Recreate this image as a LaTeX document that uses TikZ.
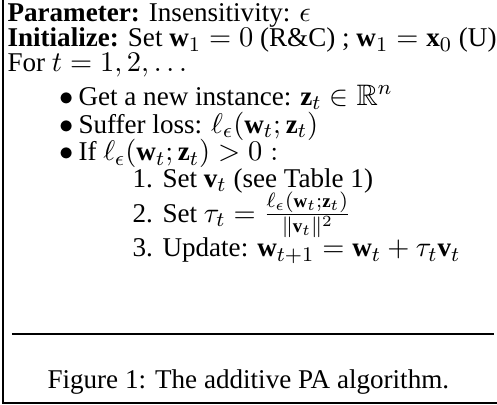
\documentclass[tikz,border=0pt]{standalone}
\usepackage{amsmath,amssymb}
\usepackage{fontspec}
\setmainfont{Liberation Serif}[Scale=0.915]
\begin{document}
\begin{tikzpicture}[x=0.385pt,y=-0.385pt,
  txt/.style={anchor=base west,inner sep=0pt,font=\fontsize{11.4pt}{13pt}\selectfont},
  rule/.style={line width=0.8pt}]
\useasboundingbox (0,0) rectangle (497,405);
\coordinate (tl) at (3,0);
\coordinate (bl) at (3,403);
\coordinate (br) at (497,403);
\coordinate (ml) at (12,334);
\coordinate (mr) at (494,334);
\draw[rule] (tl) -- (bl) -- (br);
\draw[rule] (ml) -- (mr);
\node[txt] (p) at (7,22) {\textbf{Parameter:} Insensitivity: $\epsilon$};
\node[txt] (i) at (7,47) {\textbf{Initialize:} Set $\mathbf{w}_1=0$ (R\&C) ; $\mathbf{w}_1=\mathbf{x}_0$ (U)};
\node[txt] (f) at (7,72) {For $t=1,2,\ldots$};
\node[txt] (b1) at (59,105) {$\bullet$};
\node[txt] (g) at (78,105) {Get a new instance: $\mathbf{z}_t\in\mathbb{R}^n$};
\node[txt] (b2) at (59,133) {$\bullet$};
\node[txt] (s) at (78,133) {Suffer loss: $\ell_\epsilon(\mathbf{w}_t;\mathbf{z}_t)$};
\node[txt] (b3) at (59,161) {$\bullet$};
\node[txt] (if) at (78,161) {If $\ell_\epsilon(\mathbf{w}_t;\mathbf{z}_t)>0:$};
\node[txt] (n1) at (132,187) {1.};
\node[txt] (s1) at (162,187) {Set $\mathbf{v}_t$ (see Table 1)};
\node[txt] (n2) at (132,222) {2.};
\node[txt] (s2) at (162,222) {Set $\tau_t=\frac{\ell_\epsilon(\mathbf{w}_t;\mathbf{z}_t)}{\|\mathbf{v}_t\|^2}$};
\node[txt] (n3) at (132,257) {3.};
\node[txt] (s3) at (162,257) {Update: $\mathbf{w}_{t+1}=\mathbf{w}_t+\tau_t\mathbf{v}_t$};
\node[txt] (cap) at (47,388) {Figure 1: The additive PA algorithm.};
\end{tikzpicture}
\end{document}
